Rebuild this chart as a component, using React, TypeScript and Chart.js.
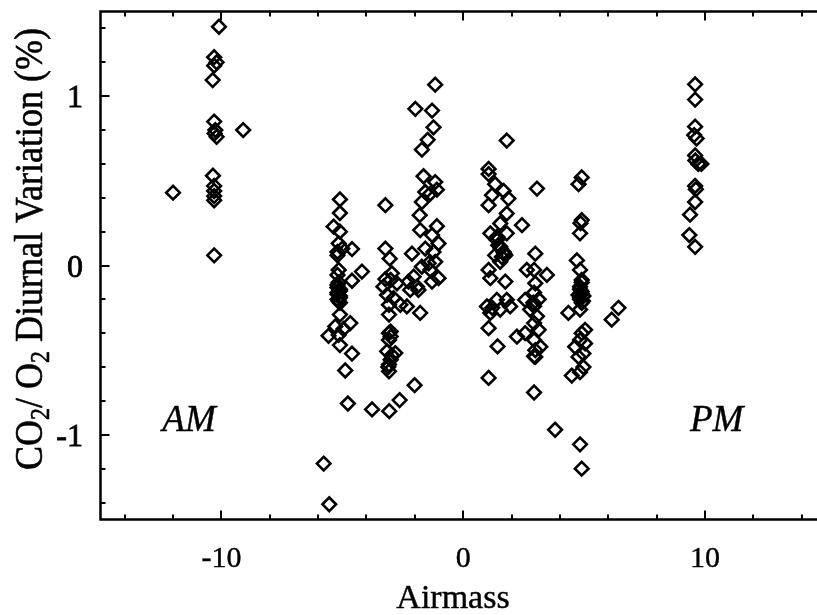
import React, { useEffect, useRef } from "react";
import { Chart, registerables } from "chart.js";

Chart.register(...registerables);

// ---- data ----
const airmass = [
  // AM group
  -10.1, -10.3, -10.2, -10.3, -10.36, -10.3, -10.25, -10.2, -10.28, -9.1, -10.35, -10.3, -10.3, -10.3, -10.3, -12.0, -10.3,
  // around -5
  -5.1, -5.1, -5.36, -5.1, -5.15, -5.0, -5.2, -4.6, -5.2, -4.19, -5.15, -5.2, -4.6, -5.15, -5.2, -5.1, -5.2, -5.1, -5.15,
  -5.1, -4.67, -5.29, -4.95, -5.57, -5.15, -5.1, -4.6, -4.88, -4.77, -5.77, -5.54,
  -5.2, -5.1, -5.2, -5.1, -5.2, -5.1,
  // around -3
  -3.22, -3.22, -3.04, -2.12, -2.95, -3.22, -3.0, -3.3, -2.74, -2.26, -2.19, -1.85, -3.15, -2.88, -2.6, -2.33, -3.07,
  -3.07, -1.78, -3.0, -3.0, -3.07, -3.15, -2.81, -3.0, -3.07, -3.07, -3.77, -3.06, -2.63, -2.01,
  -3.07, -2.95, -3.1,
  // around -1.5
  -1.16, -1.98, -1.29, -1.23, -1.47, -1.71, -1.64, -1.16, -1.57, -1.36, -1.09, -1.71, -1.8, -1.09, -1.78, -1.29, -1.02,
  -1.57, -1.23, -1.43, -1.71, -1.16, -1.36, -1.02, -1.29, -2.05, -1.91,
  // around +1.3
  1.8, 1.05, 1.05, 1.32, 1.67, 1.19, 1.87, 1.05, 1.8, 2.43, 1.53, 1.12, 1.8, 1.39, 1.53, 1.67, 1.74, 1.32, 1.53, 1.45,
  1.6, 2.98, 2.63, 1.05, 1.12, 1.74, 2.98, 0.98, 1.39, 1.8, 1.12, 1.53, 1.94, 1.2, 2.56, 2.77, 2.9, 1.05, 2.22, 2.56,
  2.93, 2.98, 2.93, 1.42, 1.05, 2.93,
  1.55, 1.7, 1.4,
  // around +3
  3.05, 3.46, 2.93, 2.93, 3.12, 2.93, 3.05, 2.93, 3.12, 3.19, 2.98, 3.8,
  // around +5
  4.9, 4.77, 4.9, 4.85, 4.83, 4.7, 4.83, 4.9, 4.83, 4.9, 4.77, 4.97, 4.83, 4.9, 4.35, 4.83, 5.04, 4.9, 4.83, 4.63, 5.04,
  4.97, 4.77, 4.97, 4.49, 4.83, 6.14, 6.42, 4.83, 4.9,
  4.9, 4.83, 4.9, 4.83, 4.95,
  // PM group
  9.59, 9.59, 9.59, 9.55, 9.65, 9.59, 9.72, 9.85, 9.6, 9.59, 9.62, 9.59, 9.38, 9.35, 9.59,
];

const variation = [
  // AM group
  1.41, 1.23, 1.2, 1.18, 1.095, 0.85, 0.8, 0.76, 0.78, 0.8, 0.53, 0.47, 0.44, 0.41, 0.385, 0.43, 0.06,
  // around -5
  0.39, 0.31, 0.23, 0.2, 0.13, 0.1, 0.08, 0.097, 0.06, -0.036, -0.026, -0.056, -0.09, -0.1, -0.13, -0.15, -0.17, -0.19, -0.21,
  -0.29, -0.34, -0.36, -0.375, -0.415, -0.41, -0.47, -0.52, -0.62, -0.815, -1.17, -1.41,
  -0.115, -0.14, -0.16, -0.18, -0.2, -0.22,
  // around -3
  0.356, 0.1, 0.04, 0.07, -0.046, -0.08, -0.085, -0.125, -0.105, -0.095, -0.144, -0.144, -0.174, -0.193, -0.232, -0.242, -0.232,
  -0.29, -0.28, -0.39, -0.42, -0.44, -0.507, -0.517, -0.556, -0.585, -0.625, -0.85, -0.86, -0.795, -0.707,
  -0.4, -0.53, -0.6,
  // around -1.5
  1.068, 0.925, 0.915, 0.816, 0.742, 0.684, 0.527, 0.493, 0.434, 0.425, 0.448, 0.375, 0.297, 0.232, 0.209, 0.18, 0.13,
  0.1, 0.08, 0.013, -0.007, 0.022, -0.026, -0.075, -0.095, -0.066, -0.125,
  // around +1.3
  0.738, 0.57, 0.54, 0.48, 0.44, 0.415, 0.395, 0.356, 0.307, 0.238, 0.248, 0.19, 0.19, 0.15, 0.11, 0.08, 0.06, 0.06, 0.022, 0.12,
  0.05, 0.07, -0.026, -0.026, -0.075, -0.095, -0.105, -0.242, -0.203, -0.203, -0.28, -0.26, -0.242, -0.25, -0.203, -0.26, -0.22, -0.37, -0.42, -0.4,
  -0.44, -0.5, -0.536, -0.478, -0.664, -0.75,
  0.1, 0.07, 0.17,
  // around +3
  0.454, -0.056, -0.026, -0.16, -0.2, -0.24, -0.3, -0.34, -0.38, -0.48, -0.54, -0.97,
  // around +5
  0.52, 0.48, 0.268, 0.25, 0.19, 0.03, -0.026, -0.085, -0.125, -0.154, -0.174, -0.18, -0.2, -0.22, -0.28, -0.26, -0.38, -0.4, -0.44, -0.48, -0.46,
  -0.52, -0.54, -0.6, -0.65, -0.63, -0.32, -0.25, -1.056, -1.2,
  -0.1, -0.14, -0.165, -0.19, -0.21,
  // PM group
  1.07, 0.98, 0.82, 0.77, 0.75, 0.65, 0.6, 0.6, 0.62, 0.47, 0.45, 0.375, 0.3, 0.18, 0.11,
];

const xMajorTicks = [-10, 0, 10];
const xTickLabels = ["-10", "0", "10"];
const xMinorTicks = [-14, -12, -8, -6, -4, -2, 2, 4, 6, 8, 12, 14];
const yMajorTicks = [-1, 0, 1];
const yTickLabels = ["-1", "0", "1"];
const yMinorTicks = [-1.4, -1.2, -0.8, -0.6, -0.4, -0.2, 0.2, 0.4, 0.6, 0.8, 1.2, 1.4];

const X_MIN = -15;
const X_MAX = 14.63;
const Y_MIN = -1.5;
const Y_MAX = 1.5;

const xTitle = "Airmass";
const yTitleParts = [
  { text: "CO", sub: false },
  { text: "2", sub: true },
  { text: "/ O", sub: false },
  { text: "2", sub: true },
  { text: " Diurnal Variation (%)", sub: false },
];
const periodNotes = [
  { text: "AM", x: -11.34, y: -0.975 },
  { text: "PM", x: 10.48, y: -0.975 },
];

const FONT = "'Liberation Serif', 'Times New Roman', serif";

function heavyText(ctx: CanvasRenderingContext2D, s: string, x: number, y: number, w = 0.4) {
  ctx.fillText(s, x, y);
  ctx.lineWidth = w;
  ctx.strokeText(s, x, y);
}

const framePlugin = {
  id: "frameAndText",
  afterDraw(chart: any) {
    const { ctx, chartArea, scales } = chart;
    const { left, right, top, bottom } = chartArea;
    const xs = scales.x;
    const ys = scales.y;
    ctx.save();
    ctx.strokeStyle = "#000";
    ctx.fillStyle = "#000";

    // frame
    ctx.lineWidth = 2.5;
    ctx.beginPath();
    ctx.moveTo(right + 4, top);
    ctx.lineTo(left, top);
    ctx.lineTo(left, bottom);
    ctx.lineTo(right + 4, bottom);
    ctx.stroke();

    // ticks
    ctx.lineWidth = 2;
    const MAJ = 9;
    const MIN = 5;
    ctx.beginPath();
    const xt = (v: number, len: number) => {
      const p = Math.round(xs.getPixelForValue(v));
      ctx.moveTo(p, bottom);
      ctx.lineTo(p, bottom - len);
      ctx.moveTo(p, top);
      ctx.lineTo(p, top + len);
    };
    xMajorTicks.forEach((v) => xt(v, MAJ));
    xMinorTicks.forEach((v) => xt(v, MIN));
    const yt = (v: number, len: number) => {
      const p = Math.round(ys.getPixelForValue(v));
      ctx.moveTo(left, p);
      ctx.lineTo(left + len, p);
    };
    yMajorTicks.forEach((v) => yt(v, MAJ));
    yMinorTicks.forEach((v) => yt(v, MIN));
    ctx.stroke();

    // tick labels
    ctx.textBaseline = "alphabetic";
    ctx.font = `30px ${FONT}`;
    ctx.textAlign = "center";
    xMajorTicks.forEach((v, i) => {
      heavyText(ctx, xTickLabels[i], xs.getPixelForValue(v), 567);
    });
    ctx.font = `32px ${FONT}`;
    ctx.textAlign = "right";
    yMajorTicks.forEach((v, i) => {
      heavyText(ctx, yTickLabels[i], 83, ys.getPixelForValue(v) + 11, 0.8);
    });

    // x title
    ctx.font = `34px ${FONT}`;
    ctx.textAlign = "center";
    heavyText(ctx, xTitle, 453, 608);

    // AM / PM
    ctx.font = `italic 37px ${FONT}`;
    ctx.textAlign = "center";
    periodNotes.forEach((n) => {
      heavyText(ctx, n.text, xs.getPixelForValue(n.x), ys.getPixelForValue(n.y));
    });

    // y title (rotated, with subscripts)
    ctx.translate(42, 470);
    ctx.rotate(-Math.PI / 2);
    ctx.scale(1, 1.12);
    ctx.textAlign = "left";
    let cx = 0;
    yTitleParts.forEach((part) => {
      ctx.font = part.sub ? `24px ${FONT}` : `36px ${FONT}`;
      heavyText(ctx, part.text, cx, part.sub ? 6 : 0, 0.5);
      cx += ctx.measureText(part.text).width;
    });

    ctx.restore();
  },
};

export default function App() {
  const ref = useRef<HTMLCanvasElement | null>(null);
  useEffect(() => {
    if (!ref.current) return;
    const points = airmass.map((x, i) => ({ x, y: variation[i] }));
    const chart = new Chart(ref.current, {
      type: "scatter",
      data: {
        datasets: [
          {
            data: points,
            pointStyle: "rectRot",
            pointRadius: 6.8,
            pointHoverRadius: 6.8,
            pointBorderWidth: 2.6,
            borderColor: "#000",
            backgroundColor: "rgba(0,0,0,0)",
          },
        ],
      },
      options: {
        responsive: false,
        animation: false,
        events: [],
        layout: { autoPadding: false, padding: { left: 100.5, top: 11.5, bottom: 95.5, right: 0 } },
        plugins: { legend: { display: false }, tooltip: { enabled: false } },
        scales: {
          x: { type: "linear", min: X_MIN, max: X_MAX, display: false },
          y: { type: "linear", min: Y_MIN, max: Y_MAX, display: false },
        },
      },
      plugins: [framePlugin],
    });
    return () => chart.destroy();
  }, []);
  return (
    <div style={{ position: "absolute", left: 0, top: 0, width: 817, height: 615, background: "#fff" }}>
      <canvas ref={ref} width={817} height={615} style={{ width: 817, height: 615, display: "block" }} />
    </div>
  );
}
